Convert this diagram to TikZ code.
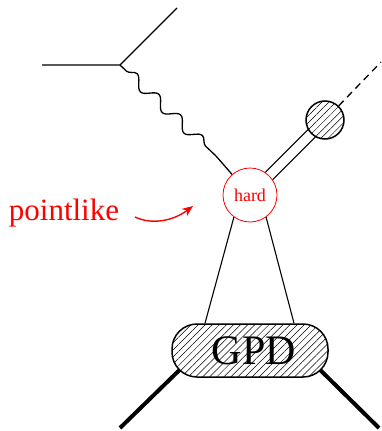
\documentclass[tikz,border=0pt]{standalone}
\usepackage{fontspec}
\setmainfont{Liberation Serif}
\usetikzlibrary{decorations.pathmorphing,patterns.meta,backgrounds,arrows.meta}
\tikzset{
  ln/.style={line width=1.3pt},
  hatch/.style={fill=white, postaction={pattern={Lines[angle=45,distance=5pt,line width=0.5pt]}}},
  thickleg/.style={line width=4pt},
}
\begin{document}
\begin{tikzpicture}[x=1pt,y=-1pt]
\useasboundingbox (0,0) rectangle (381,431);
% coordinates
\coordinate (left) at (42,65);
\coordinate (v) at (120,65);
\coordinate (top) at (177,8);
\coordinate (pk) at (216,156);
\coordinate (dashend) at (381,62);
\coordinate (bl) at (120,428);
\coordinate (br) at (379,428);
\coordinate (blin) at (200,350);
\coordinate (brin) at (300,350);
\coordinate (as) at (135,217);
\coordinate (ae) at (193,206);
% nodes
\node[circle, draw=red, line width=0.8pt, fill=white, minimum size=54pt, inner sep=0pt,
      text=red, font=\fontsize{18}{18}\selectfont] (hard) at (250,195) {hard};
\node[circle, draw, line width=1.5pt, hatch, minimum size=38pt, inner sep=0pt] (blob) at (325,120) {};
\node[draw, line width=1.5pt, rounded corners=25pt, hatch, minimum width=156pt, minimum height=53pt,
      inner sep=0pt, font=\fontsize{42}{42}\selectfont] (gpd) at (250,350.5) {\hspace{8pt}GPD};
\node[anchor=base, text=red, font=\fontsize{31}{31}\selectfont] (pl) at (64,220) {pointlike};
% lines
\begin{scope}[on background layer]
\draw[ln, double distance=9pt, line width=1.3pt] (hard.center) -- (blob.center);
\draw[thickleg] (blin) -- (bl);
\draw[thickleg] (brin) -- (br);
\end{scope}
\draw[ln] (left) -- (v) -- (top);
\draw[ln, decorate, decoration={snake, amplitude=5.5pt, segment length=30pt, pre length=9pt, post length=1pt}] (v) -- (pk);
\draw[ln] (pk) -- (hard);
\draw[ln, dash pattern=on 7pt off 5pt] (blob) -- (dashend);
\draw[line width=1.1pt] (hard.234) -- ([xshift=-45pt]gpd.north);
\draw[line width=1.1pt] (hard.306) -- ([xshift=44pt]gpd.north);
\draw[red, line width=1.4pt, -{Stealth[length=11pt,width=9pt]}] (as) .. controls (152,225) and (173,221) .. (ae);
\end{tikzpicture}
\end{document}
